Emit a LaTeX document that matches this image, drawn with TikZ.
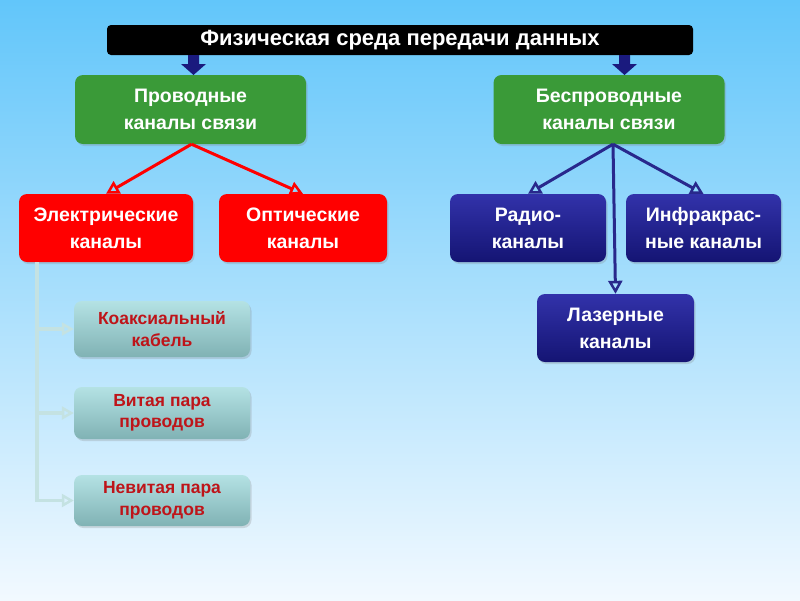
\documentclass[tikz,border=0pt]{standalone}
\usepackage{fontspec}
\setmainfont{Liberation Sans}
\usetikzlibrary{arrows.meta,shadows,calc}
\definecolor{bgtop}{RGB}{98,198,250}
\definecolor{bgbot}{RGB}{242,249,255}
\definecolor{grn}{RGB}{58,154,56}
\definecolor{navyT}{RGB}{50,50,170}
\definecolor{navyB}{RGB}{20,20,115}
\definecolor{navyL}{RGB}{40,40,140}
\definecolor{tealT}{RGB}{180,226,228}
\definecolor{tealB}{RGB}{128,178,180}
\definecolor{tealL}{RGB}{196,226,226}
\definecolor{dred}{RGB}{190,20,25}
\tikzset{
  box/.style={rounded corners=8pt, align=center, inner sep=0pt,
    font=\bfseries\fontsize{19.5}{27}\selectfont, text=white,
    drop shadow={shadow xshift=1.5pt, shadow yshift=-2pt, opacity=0.25}},
  greenbox/.style={box, fill=grn, minimum width=231pt, minimum height=69pt},
  redbox/.style={box, fill=red, minimum height=68pt},
  bluebox/.style={box, top color=navyT, bottom color=navyB, minimum width=156pt, minimum height=68pt},
  tealbox/.style={box, top color=tealT, bottom color=tealB, text=dred,
    minimum width=176pt, font=\bfseries\fontsize{17.5}{21.5}\selectfont},
  redarr/.style={draw=red, line width=3pt, -{Triangle[open, length=13pt, width=14pt, line width=2.5pt]}},
  bluearr/.style={draw=navyL, line width=3pt, -{Triangle[open, length=13pt, width=14pt, line width=2.5pt]}},
  tealarr/.style={draw=tealL, line width=3.5pt, -{Triangle[open, length=12pt, width=13pt, line width=2.5pt]}},
  blockarr/.style={fill=navyB!80!navyT, draw=none}
}
\begin{document}
\begin{tikzpicture}[x=1pt,y=-1pt]
\useasboundingbox (0,0) rectangle (800,600);
\shade[top color=bgtop, bottom color=bgbot] (0,0) rectangle (800,600);

% title
\node[fill=black, rounded corners=4pt, minimum width=586pt, minimum height=30pt, inner sep=0pt,
  text=white, font=\bfseries\fontsize{22}{24}\selectfont] (title) at (400,40) {\raisebox{-2pt}{Физическая среда передачи данных}};

% block arrows
\fill[blockarr] (188,55) -- (199,55) -- (199,64) -- (206,64) -- (193.5,75) -- (181,64) -- (188,64) -- cycle;
\fill[blockarr] (619,55) -- (630,55) -- (630,64) -- (637,64) -- (624.5,75) -- (612,64) -- (619,64) -- cycle;

% green
\node[greenbox] (wired) at (190.5,109.5) {Проводные\\каналы связи};
\node[greenbox] (wireless) at (609,109.5) {Беспроводные\\каналы связи};

% red
\node[redbox, minimum width=174pt] (elec) at (106,228) {Электрические\\каналы};
\node[redbox, minimum width=168pt] (opt) at (303,228) {Оптические\\каналы};

% blue
\node[bluebox] (radio) at (528,228) {Радио-\\каналы};
\node[bluebox, minimum width=155pt] (ir) at (703.5,228) {Инфракрас-\\ные каналы};
\node[bluebox, minimum width=157pt] (laser) at (615.5,328) {Лазерные\\каналы};

% teal
\node[tealbox, minimum height=56pt] (coax) at (162,329) {Коаксиальный\\кабель};
\node[tealbox, minimum height=52pt] (tw) at (162,413) {Витая пара\\проводов};
\node[tealbox, minimum height=51pt] (untw) at (162,500.5) {Невитая пара\\проводов};

% connectors
\draw[redarr] ($(wired.south)+(1,0)$) -- (elec.north);
\draw[redarr] ($(wired.south)+(1,0)$) -- (opt.north);
\draw[bluearr] ($(wireless.south)+(4,0)$) -- (radio.north);
\draw[bluearr] ($(wireless.south)+(4,0)$) -- (ir.north);
\draw[bluearr] ($(wireless.south)+(4,0)$) -- (laser.north);

\coordinate (sp) at ($(elec.south west)+(18,0)$);
\draw[tealarr] (sp) |- (coax.west);
\draw[tealarr] (sp) |- (tw.west);
\draw[tealarr] (sp) |- (untw.west);
\end{tikzpicture}
\end{document}
